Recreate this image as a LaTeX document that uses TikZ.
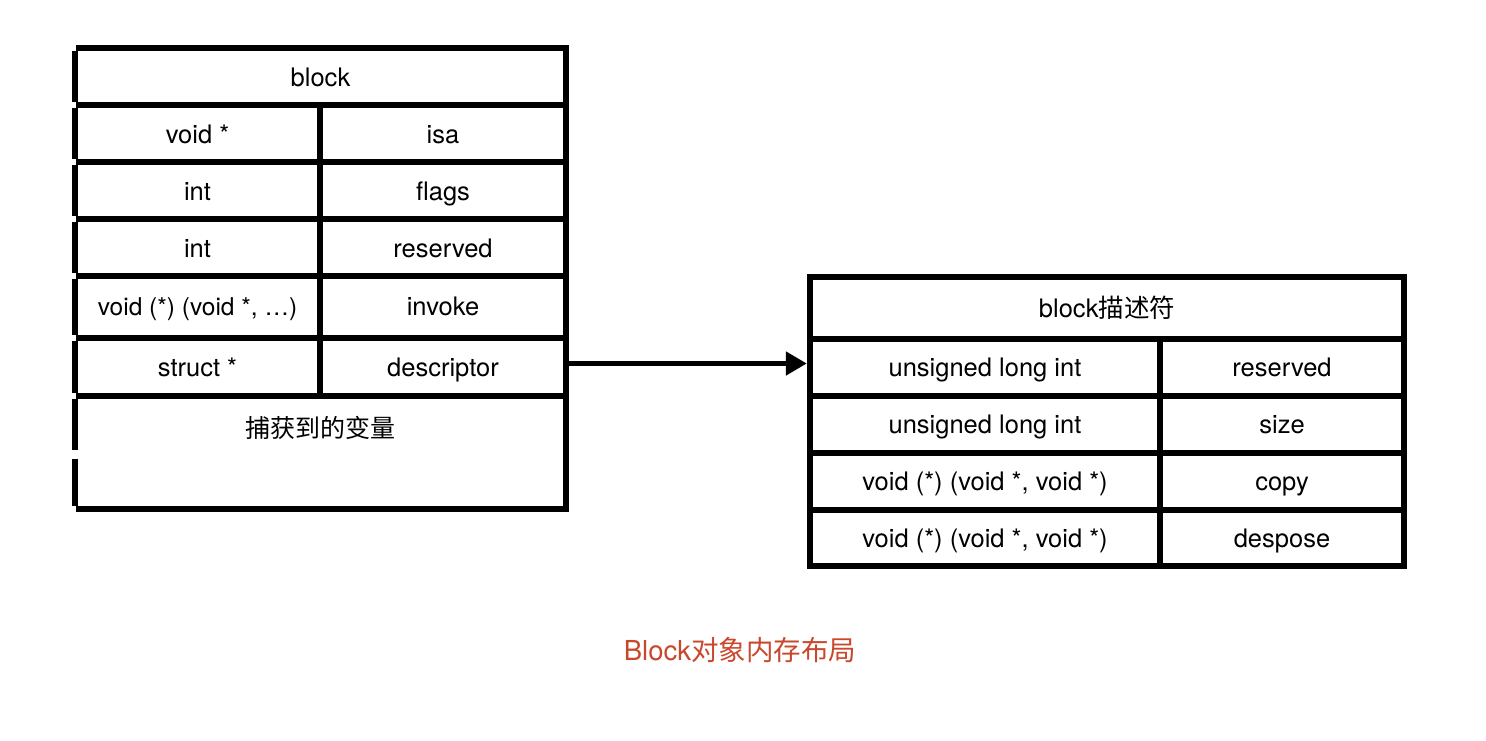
\documentclass[tikz,border=0pt]{standalone}
\usepackage{fontspec}
\setmainfont{TeX Gyre Heros}
\newfontfamily\cjk{Noto Sans CJK SC}
\usetikzlibrary{arrows.meta}
\definecolor{capred}{RGB}{201,72,44}
\tikzset{
  gridline/.style={line width=6pt, line cap=butt, line join=miter},
  cell/.style={inner sep=0pt, text height=20pt, text depth=0pt, anchor=center,
    font=\fontsize{25.5}{30}\selectfont},
  linkarrow/.style={line width=5pt, -{Triangle[length=21pt,width=23pt]}, shorten >=3pt},
}
\begin{document}
\begin{tikzpicture}[x=1pt, y=-1pt]
\useasboundingbox (0,0) rectangle (1486,740);
\fill[white] (0,0) rectangle (1486,740);

% ---------- left table: block ----------
\draw[gridline] (566,45) -- (566,512);
\foreach \yy in {48,105,162,219,276,338,396,509}
  \draw[gridline] (76,\yy) -- (566,\yy);
\foreach \ya/\yb in {51/102,108/159,165/216,222/273,279/335,341/393,399/450,458.5/506}
  \draw[gridline] (75,\ya) -- (75,\yb);
\draw[gridline] (320,105) -- (320,396);

\node[cell, minimum width=491pt, minimum height=57pt] (btitle) at (320.5,76.5) {block};
\node[cell, minimum width=245pt, minimum height=57pt] (isaT) at (197.5,133.5) {void *};
\node[cell, minimum width=246pt, minimum height=57pt] (isaN) at (443,133.5) {isa};
\node[cell, minimum width=245pt, minimum height=57pt] (flagsT) at (197.5,190.5) {int};
\node[cell, minimum width=246pt, minimum height=57pt] (flagsN) at (443,190.5) {flags};
\node[cell, minimum width=245pt, minimum height=57pt] (resT) at (197.5,247.5) {int};
\node[cell, minimum width=246pt, minimum height=57pt] (resN) at (443,247.5) {reserved};
\node[cell, minimum width=245pt, minimum height=62pt, font=\fontsize{24.5}{30}\selectfont] (invT) at (197.5,305) {void (*) (void *, …)};
\node[cell, minimum width=246pt, minimum height=62pt] (invN) at (443,305) {invoke};
\node[cell, minimum width=245pt, minimum height=58pt] (descT) at (197.5,366.5) {struct *};
\node[cell, minimum width=246pt, minimum height=58pt] (descN) at (443,366.5) {descriptor};
\node[anchor=base, inner sep=0pt, font=\fontsize{25}{30}\selectfont\cjk] (captured) at (320.5,437) {捕获到的变量};

% ---------- right table: descriptor ----------
\draw[gridline] (810,277) rectangle (1404,565.5);
\foreach \yy in {338.5,395.5,452.5,509.5}
  \draw[gridline] (810,\yy) -- (1404,\yy);
\draw[gridline] (1160,338.5) -- (1160,565.5);

\node[cell, minimum width=594pt, minimum height=61.5pt] (dtitle) at (1107,307.25) {block{\cjk 描述符}};
\node[cell, minimum width=350pt, minimum height=57pt] (rresT) at (985,366.5) {unsigned long int};
\node[cell, minimum width=244pt, minimum height=57pt] (rresN) at (1282,366.5) {reserved};
\node[cell, minimum width=350pt, minimum height=57pt] (sizeT) at (985,423.5) {unsigned long int};
\node[cell, minimum width=244pt, minimum height=57pt] (sizeN) at (1282,423.5) {size};
\node[cell, minimum width=350pt, minimum height=57pt] (copyT) at (985,480.5) {void (*) (void *, void *)};
\node[cell, minimum width=244pt, minimum height=57pt] (copyN) at (1282,480.5) {copy};
\node[cell, minimum width=350pt, minimum height=56pt] (dispT) at (985,537) {void (*) (void *, void *)};
\node[cell, minimum width=244pt, minimum height=56pt] (dispN) at (1282,537) {despose};

% ---------- link ----------
\draw[linkarrow] ([yshift=3pt]descN.east) -- ([yshift=3pt]rresT.west);

% ---------- caption ----------
\node[anchor=base, inner sep=0pt, text=capred, font=\fontsize{27.5}{32}\selectfont] (caption) at (740,660.5) {Block{\cjk 对象内存布局}};
\end{tikzpicture}
\end{document}
